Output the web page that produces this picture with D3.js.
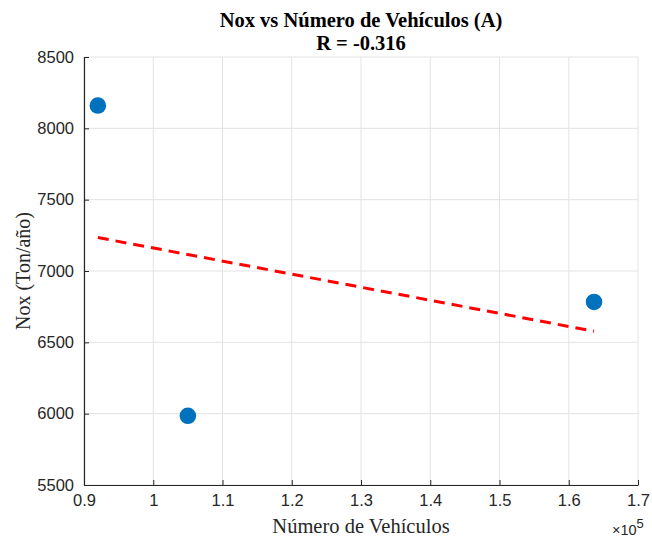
<!DOCTYPE html>
<html>
<head>
<meta charset="utf-8">
<script src="https://cdn.jsdelivr.net/npm/d3@7"></script>
<style>
  html, body { margin: 0; padding: 0; background: #fff; }
  svg { display: block; }
</style>
</head>
<body>
<svg id="chart" width="652" height="539"></svg>
<script>
// Vehicle counts and NOx emissions per region
const vehicles = [92000, 105000, 163650];
const nox = [8160, 5985, 6783];
const xTicks = [0.9, 1.0, 1.1, 1.2, 1.3, 1.4, 1.5, 1.6, 1.7];
const xTickLabels = ["0.9", "1", "1.1", "1.2", "1.3", "1.4", "1.5", "1.6", "1.7"];
const yTicks = [5500, 6000, 6500, 7000, 7500, 8000, 8500];
const titleLines = ["Nox vs Número de Vehículos (A)", "R = -0.316"];
const xLabel = "Número de Vehículos";
const yLabel = "Nox (Ton/año)";

const svg = d3.select("#chart");
const margin = { left: 84, right: 14, top: 57, bottom: 54 };
const W = 652, H = 539;

const x = d3.scaleLinear().domain([0.9e5, 1.7e5]).range([margin.left, W - margin.right]);
const y = d3.scaleLinear().domain([5500, 8500]).range([H - margin.bottom, margin.top]);

const axisColor = "#262626";
const gridColor = "#e3e3e3";
const serif = "'Liberation Serif', 'Times New Roman', serif";
const sans = "'Liberation Sans', Arial, sans-serif";

// grid
const grid = svg.append("g");
grid.selectAll("line.gx").data(xTicks).join("line")
  .attr("x1", d => x(d * 1e5)).attr("x2", d => x(d * 1e5))
  .attr("y1", y(5500)).attr("y2", y(8500))
  .attr("stroke", gridColor).attr("stroke-width", 1);
grid.selectAll("line.gy").data(yTicks).join("line")
  .attr("y1", d => y(d)).attr("y2", d => y(d))
  .attr("x1", x(0.9e5)).attr("x2", x(1.7e5))
  .attr("stroke", gridColor).attr("stroke-width", 1);

// axes
const xAxis = d3.axisBottom(x)
  .tickValues(xTicks.map(d => d * 1e5))
  .tickFormat((d, i) => xTickLabels[i])
  .tickSizeInner(-5).tickSizeOuter(0).tickPadding(9);
const gx = svg.append("g").attr("transform", `translate(0,${y(5500)})`).call(xAxis);

const yAxis = d3.axisLeft(y)
  .tickValues(yTicks)
  .tickFormat(d3.format("d"))
  .tickSizeInner(-5).tickSizeOuter(0).tickPadding(10);
const gy = svg.append("g").attr("transform", `translate(${x(0.9e5)},0)`).call(yAxis);

[gx, gy].forEach(g => {
  g.select(".domain").attr("stroke", axisColor).attr("stroke-width", 1.2);
  g.selectAll(".tick line").attr("stroke", axisColor).attr("stroke-width", 1);
  g.selectAll(".tick text")
    .attr("fill", axisColor)
    .style("font-family", sans)
    .style("font-size", "16.5px");
});

// least-squares fit
const n = vehicles.length;
const mx = d3.mean(vehicles), my = d3.mean(nox);
let sxy = 0, sxx = 0;
for (let i = 0; i < n; i++) {
  sxy += (vehicles[i] - mx) * (nox[i] - my);
  sxx += (vehicles[i] - mx) ** 2;
}
const slope = sxy / sxx, intercept = my - slope * mx;
const xMin = d3.min(vehicles), xMax = d3.max(vehicles);
const fit = [xMin, xMax].map(v => [v, intercept + slope * v]);

svg.append("path")
  .datum(fit)
  .attr("d", d3.line().x(d => x(d[0])).y(d => y(d[1])))
  .attr("stroke", "#ff0000").attr("stroke-width", 3)
  .attr("stroke-dasharray", "11,7").attr("fill", "none");

// data points
svg.selectAll("circle.pt").data(vehicles).join("circle")
  .attr("cx", d => x(d)).attr("cy", (d, i) => y(nox[i]))
  .attr("r", 8.3).attr("fill", "#0072BD");

// title
const cx = (x(0.9e5) + x(1.7e5)) / 2;
const title = svg.append("text")
  .attr("text-anchor", "middle")
  .style("font-family", serif)
  .style("font-weight", "bold").style("font-size", "20.5px")
  .attr("fill", "#000");
titleLines.forEach((t, i) => {
  title.append("tspan").attr("x", cx).attr("y", 27 + i * 23).text(t);
});

// axis labels
svg.append("text")
  .attr("x", cx).attr("y", 533)
  .attr("text-anchor", "middle")
  .style("font-family", serif)
  .style("font-size", "20.5px").attr("fill", axisColor)
  .text(xLabel);

svg.append("text")
  .attr("transform", `translate(30,${(y(5500) + y(8500)) / 2}) rotate(-90)`)
  .attr("text-anchor", "middle")
  .style("font-family", serif)
  .style("font-size", "20px").attr("fill", axisColor)
  .text(yLabel);

// exponent marker
const ex = svg.append("text")
  .attr("x", 612).attr("y", 535)
  .style("font-family", sans)
  .style("font-size", "14.5px").attr("fill", axisColor);
ex.append("tspan").text("×10");
ex.append("tspan").attr("dy", -7).style("font-size", "13px").text("5");
</script>
</body>
</html>
